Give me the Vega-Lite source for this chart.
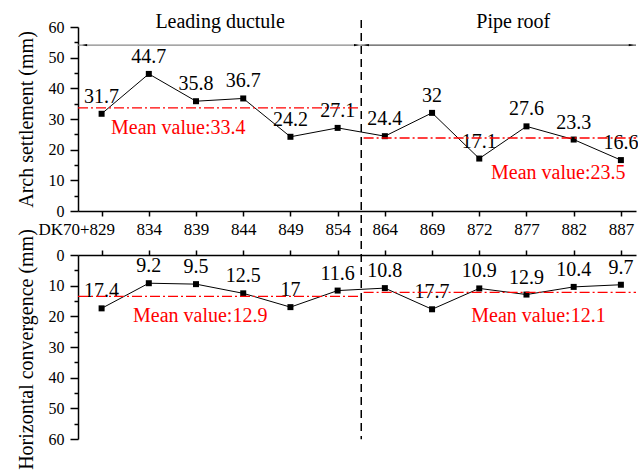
{
  "$schema": "https://vega.github.io/schema/vega-lite/v6.json",
  "padding": {"left": 15, "top": 12, "right": 0, "bottom": 0},
  "spacing": 44,
  "bounds": "flush",
  "data": {"values": [
    {"idx": 0, "station": "DK70+829", "arch": 31.7, "conv": 17.4},
    {"idx": 1, "station": "834", "arch": 44.7, "conv": 9.2},
    {"idx": 2, "station": "839", "arch": 35.8, "conv": 9.5},
    {"idx": 3, "station": "844", "arch": 36.7, "conv": 12.5},
    {"idx": 4, "station": "849", "arch": 24.2, "conv": 17},
    {"idx": 5, "station": "854", "arch": 27.1, "conv": 11.6},
    {"idx": 6, "station": "864", "arch": 24.4, "conv": 10.8},
    {"idx": 7, "station": "869", "arch": 32, "conv": 17.7},
    {"idx": 8, "station": "872", "arch": 17.1, "conv": 10.9},
    {"idx": 9, "station": "877", "arch": 27.6, "conv": 12.9},
    {"idx": 10, "station": "882", "arch": 23.3, "conv": 10.4},
    {"idx": 11, "station": "887", "arch": 16.6, "conv": 9.7}
  ]},
  "vconcat": [
    {
      "width": 558,
      "height": 184,
      "resolve": {"axis": {"y": "independent"}},
      "layer": [
        {
          "mark": {"type": "line", "color": "black", "strokeWidth": 1},
          "encoding": {
            "x": {"field": "idx", "type": "quantitative", "scale": {"domain": [-0.5, 11.32], "nice": false, "zero": false},
              "axis": {"orient": "bottom", "title": null, "values": [0,1,2,3,4,5,6,7,8,9,10,11], "tickSize": 5, "labelPadding": 5, "labelFlush": false, "labelFontSize": 17,
                "labelExpr": "['DK70+829','834','839','844','849','854','864','869','872','877','882','887'][datum.value]",
                "labelAlign": {"condition": {"test": "datum.value == 0", "value": "right"}, "value": "center"},
                "labelOffset": {"condition": {"test": "datum.value == 0", "value": 13}, "value": 0}}},
            "y": {"field": "arch", "type": "quantitative", "scale": {"domain": [0, 60], "nice": false, "zero": false},
              "axis": {"orient": "left", "title": "Arch settlement (mm)", "values": [0,10,20,30,40,50,60], "tickSize": 8, "labelPadding": 6, "titlePadding": 12}}
          }
        },
        {
          "mark": {"type": "point", "shape": "square", "filled": true, "size": 36, "color": "black", "opacity": 1},
          "encoding": {
            "x": {"field": "idx", "type": "quantitative", "scale": {"domain": [-0.5, 11.32], "nice": false, "zero": false}},
            "y": {"field": "arch", "type": "quantitative", "scale": {"domain": [0, 60], "nice": false, "zero": false},
              "axis": {"orient": "left", "title": null, "values": [5,15,25,35,45,55], "tickSize": 4, "labels": false, "domain": false}}
          }
        },
        {
          "mark": {"type": "text", "dy": -17, "fontSize": 20, "font": "Liberation Serif", "color": "black", "baseline": "middle"},
          "encoding": {
            "x": {"field": "idx", "type": "quantitative"},
            "y": {"field": "arch", "type": "quantitative", "axis": null},
            "text": {"field": "arch", "type": "quantitative"}
          }
        },
        {
          "data": {"values": [{}]},
          "mark": {"type": "rule", "color": "#ff0000", "strokeWidth": 1.3, "strokeDash": [10, 3, 2, 3]},
          "encoding": {"x": {"datum": -0.5, "type": "quantitative"}, "x2": {"datum": 5.45}, "y": {"datum": 33.6, "type": "quantitative", "axis": null}}
        },
        {
          "data": {"values": [{}]},
          "mark": {"type": "rule", "color": "#ff0000", "strokeWidth": 1.3, "strokeDash": [10, 3, 2, 3]},
          "encoding": {"x": {"datum": 5.55, "type": "quantitative"}, "x2": {"datum": 11.32}, "y": {"datum": 23.8, "type": "quantitative", "axis": null}}
        },
        {
          "data": {"values": [{}]},
          "mark": {"type": "text", "align": "left", "baseline": "middle", "fontSize": 20, "font": "Liberation Serif", "color": "#ff0000", "text": "Mean value:33.4"},
          "encoding": {"x": {"datum": 0.2, "type": "quantitative"}, "y": {"datum": 27.1, "type": "quantitative", "axis": null}}
        },
        {
          "data": {"values": [{}]},
          "mark": {"type": "text", "align": "left", "baseline": "middle", "fontSize": 20, "font": "Liberation Serif", "color": "#ff0000", "text": "Mean value:23.5"},
          "encoding": {"x": {"datum": 8.25, "type": "quantitative"}, "y": {"datum": 12.4, "type": "quantitative", "axis": null}}
        },
        {
          "data": {"values": [{}]},
          "mark": {"type": "rule", "color": "black", "strokeWidth": 1.5, "strokeDash": [8, 5]},
          "encoding": {"x": {"datum": 5.5, "type": "quantitative"}, "y": {"datum": 62.3, "type": "quantitative", "axis": null}, "y2": {"datum": -74.4}}
        },
        {
          "data": {"values": [{}]},
          "mark": {"type": "rule", "color": "#888888", "strokeWidth": 1.2},
          "encoding": {"x": {"datum": -0.5, "type": "quantitative"}, "x2": {"datum": 5.5}, "y": {"datum": 54.1, "type": "quantitative", "axis": null}}
        },
        {
          "data": {"values": [{}]},
          "mark": {"type": "rule", "color": "#555555", "strokeWidth": 1.2},
          "encoding": {"x": {"datum": 5.5, "type": "quantitative"}, "x2": {"datum": 11.32}, "y": {"datum": 54.1, "type": "quantitative", "axis": null}}
        },
        {
          "data": {"values": [{}]},
          "mark": {"type": "point", "shape": "M-1,0L1,-0.45L1,0.45Z", "filled": true, "size": 25, "color": "black", "opacity": 1},
          "encoding": {"x": {"datum": -0.36, "type": "quantitative"}, "y": {"datum": 54.1, "type": "quantitative", "axis": null}}
        },
        {
          "data": {"values": [{}]},
          "mark": {"type": "point", "shape": "M1,0L-1,-0.45L-1,0.45Z", "filled": true, "size": 25, "color": "black", "opacity": 1},
          "encoding": {"x": {"datum": 5.4, "type": "quantitative"}, "y": {"datum": 54.1, "type": "quantitative", "axis": null}}
        },
        {
          "data": {"values": [{}]},
          "mark": {"type": "point", "shape": "M-1,0L1,-0.45L1,0.45Z", "filled": true, "size": 25, "color": "black", "opacity": 1},
          "encoding": {"x": {"datum": 5.61, "type": "quantitative"}, "y": {"datum": 54.1, "type": "quantitative", "axis": null}}
        },
        {
          "data": {"values": [{}]},
          "mark": {"type": "point", "shape": "M1,0L-1,-0.45L-1,0.45Z", "filled": true, "size": 25, "color": "black", "opacity": 1},
          "encoding": {"x": {"datum": 11.22, "type": "quantitative"}, "y": {"datum": 54.1, "type": "quantitative", "axis": null}}
        },
        {
          "data": {"values": [{}]},
          "mark": {"type": "text", "align": "center", "baseline": "middle", "fontSize": 20, "font": "Liberation Serif", "color": "black", "text": "Leading ductule"},
          "encoding": {"x": {"datum": 2.51, "type": "quantitative"}, "y": {"datum": 61.6, "type": "quantitative", "axis": null}}
        },
        {
          "data": {"values": [{}]},
          "mark": {"type": "text", "align": "center", "baseline": "middle", "fontSize": 20, "font": "Liberation Serif", "color": "black", "text": "Pipe roof"},
          "encoding": {"x": {"datum": 8.72, "type": "quantitative"}, "y": {"datum": 61.6, "type": "quantitative", "axis": null}}
        }
      ]
    },
    {
      "width": 558,
      "height": 184,
      "resolve": {"axis": {"y": "independent"}},
      "layer": [
        {
          "mark": {"type": "line", "color": "black", "strokeWidth": 1},
          "encoding": {
            "x": {"field": "idx", "type": "quantitative", "scale": {"domain": [-0.5, 11.32], "nice": false, "zero": false},
              "axis": {"orient": "top", "title": null, "values": [0,1,2,3,4,5,6,7,8,9,10,11], "tickSize": 5, "labels": false}},
            "y": {"field": "conv", "type": "quantitative", "scale": {"domain": [0, 60], "nice": false, "zero": false, "reverse": true},
              "axis": {"orient": "left", "title": "Horizontal convergence (mm)", "values": [0,10,20,30,40,50,60], "tickSize": 8, "labelPadding": 6, "titlePadding": 12, "titleY": 94}}
          }
        },
        {
          "mark": {"type": "point", "shape": "square", "filled": true, "size": 36, "color": "black", "opacity": 1},
          "encoding": {
            "x": {"field": "idx", "type": "quantitative", "scale": {"domain": [-0.5, 11.32], "nice": false, "zero": false}},
            "y": {"field": "conv", "type": "quantitative", "scale": {"domain": [0, 60], "nice": false, "zero": false, "reverse": true},
              "axis": {"orient": "left", "title": null, "values": [5,15,25,35,45,55], "tickSize": 4, "labels": false, "domain": false}}
          }
        },
        {
          "mark": {"type": "text", "dy": -17, "fontSize": 20, "font": "Liberation Serif", "color": "black", "baseline": "middle"},
          "encoding": {
            "x": {"field": "idx", "type": "quantitative"},
            "y": {"field": "conv", "type": "quantitative", "axis": null},
            "text": {"field": "conv", "type": "quantitative"}
          }
        },
        {
          "data": {"values": [{}]},
          "mark": {"type": "rule", "color": "#ff0000", "strokeWidth": 1.3, "strokeDash": [10, 3, 2, 3]},
          "encoding": {"x": {"datum": -0.5, "type": "quantitative"}, "x2": {"datum": 5.45}, "y": {"datum": 13.5, "type": "quantitative", "axis": null}}
        },
        {
          "data": {"values": [{}]},
          "mark": {"type": "rule", "color": "#ff0000", "strokeWidth": 1.3, "strokeDash": [10, 3, 2, 3]},
          "encoding": {"x": {"datum": 5.55, "type": "quantitative"}, "x2": {"datum": 11.32}, "y": {"datum": 12.2, "type": "quantitative", "axis": null}}
        },
        {
          "data": {"values": [{}]},
          "mark": {"type": "text", "align": "left", "baseline": "middle", "fontSize": 20, "font": "Liberation Serif", "color": "#ff0000", "text": "Mean value:12.9"},
          "encoding": {"x": {"datum": 0.665, "type": "quantitative"}, "y": {"datum": 19.9, "type": "quantitative", "axis": null}}
        },
        {
          "data": {"values": [{}]},
          "mark": {"type": "text", "align": "left", "baseline": "middle", "fontSize": 20, "font": "Liberation Serif", "color": "#ff0000", "text": "Mean value:12.1"},
          "encoding": {"x": {"datum": 7.83, "type": "quantitative"}, "y": {"datum": 19.9, "type": "quantitative", "axis": null}}
        }
      ]
    }
  ],
  "config": {
    "view": {"stroke": null},
    "axis": {
      "labelFont": "Liberation Serif", "titleFont": "Liberation Serif",
      "labelFontSize": 16, "titleFontSize": 20, "titleFontWeight": "normal",
      "labelColor": "black", "titleColor": "black",
      "domainColor": "black", "tickColor": "black",
      "domainWidth": 1.5, "tickWidth": 1.5, "grid": false
    },
    "text": {"font": "Liberation Serif"}
  }
}
